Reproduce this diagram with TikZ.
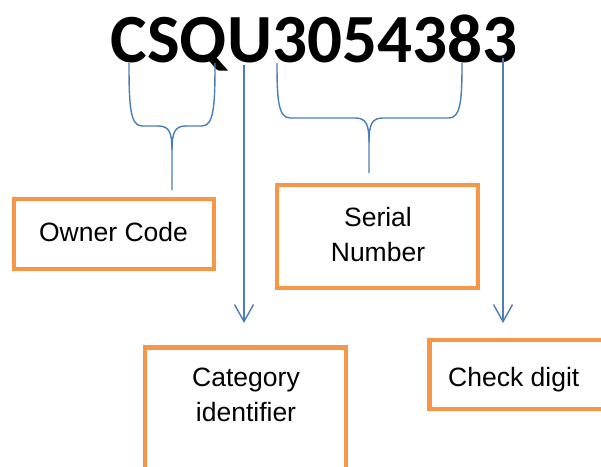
\documentclass[tikz,border=0pt]{standalone}
\usepackage{fontspec}
\setmainfont{Liberation Sans}
\newfontfamily\carlito{Carlito}
\usetikzlibrary{arrows.meta}
\definecolor{boxorange}{HTML}{F79646}
\definecolor{lineblue}{HTML}{4A7EBB}
\tikzset{
  box/.style={draw=boxorange, line width=4.5pt, rectangle, inner sep=0pt},
  lbl/.style={inner sep=0pt, font=\fontsize{26.5}{35}\selectfont, align=center},
  brace/.style={draw=lineblue, line width=1.4pt},
  arr/.style={draw=lineblue, line width=1.4pt, -{Straight Barb[length=17pt,width=19pt,line width=1.4pt]}}
}
\begin{document}
\begin{tikzpicture}[x=1pt,y=-1pt]
\useasboundingbox (0,0) rectangle (601,466);
\clip (0,0) rectangle (601,466);
% title
\node[inner sep=0pt, anchor=base, font=\carlito\bfseries\fontsize{69}{69}\selectfont] (code) at (314,62) {CSQU3054383};
% boxes
\node[box, minimum width=200pt, minimum height=70pt] (owner) at (114,234) {};
\node[lbl, anchor=base] (ownertxt) at (113.5,241) {Owner Code};
\node[box, minimum width=201pt, minimum height=103pt] (serial) at (377.5,236.5) {};
\node[lbl, anchor=north] (serialtxt) at (378,207.5) {Serial\\Number};
\node[box, minimum width=201pt, minimum height=150pt, anchor=north] (cat) at (245.5,345) {};
\node[lbl, anchor=north] (cattxt) at (246,367.5) {Category\\identifier};
\node[box, minimum width=200pt, minimum height=69pt, anchor=west] (check) at (427,374.5) {};
\node[lbl, anchor=base west] (checktxt) at (448,386) {Check digit};
% brace for owner code
\coordinate (b1l) at (129,63);
\coordinate (b1r) at (215,63);
\coordinate (b1t) at (172,190);
\draw[brace] (b1l) .. controls (129,105) and (130,126) .. (142,126) -- (158,126)
  .. controls (169,126) and (172,132) .. (172,150) -- (b1t);
\draw[brace] (b1r) .. controls (215,105) and (214,126) .. (202,126) -- (186,126)
  .. controls (175,126) and (172,132) .. (172,150);
% brace for serial number
\coordinate (b2l) at (277,63);
\coordinate (b2r) at (462,63);
\coordinate (b2t) at (369,173);
\draw[brace] (b2l) .. controls (277,98) and (278,118) .. (290,118) -- (355,118)
  .. controls (366,118) and (369,124) .. (369,142) -- (b2t);
\draw[brace] (b2r) .. controls (462,98) and (461,118) .. (449,118) -- (383,118)
  .. controls (372,118) and (369,124) .. (369,142);
% arrows
\coordinate (a1s) at (244,65);
\coordinate (a1e) at (244,323);
\coordinate (a2s) at (503,58);
\coordinate (a2e) at (503,323);
\draw[arr] (a1s) -- (a1e);
\draw[arr] (a2s) -- (a2e);
\end{tikzpicture}
\end{document}
